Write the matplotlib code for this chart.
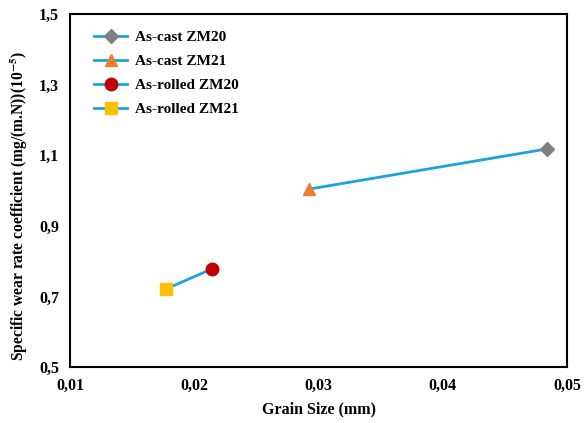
import matplotlib
matplotlib.use("Agg")
import matplotlib.pyplot as plt

plt.rcParams['font.family'] = ['Liberation Serif', 'DejaVu Serif']
plt.rcParams['mathtext.fontset'] = 'stix'

labels = ['As-cast ZM20', 'As-cast ZM21', 'As-rolled ZM20', 'As-rolled ZM21']
grain = [0.0484, 0.0292, 0.0214, 0.0177]
wear = [1.118, 1.004, 0.778, 0.721]
markers = ['D', '^', 'o', 's']
colors = ['#7f7f7f', '#ed7d31', '#c00000', '#ffc000']
sizes = [7, 9, 9, 9]
pairs = [(0, 1), (2, 3)]
line_color = '#1ca3de'

xticks = [0.01, 0.02, 0.03, 0.04, 0.05]
yticks = [0.5, 0.7, 0.9, 1.1, 1.3, 1.5]

fig = plt.figure(figsize=(5.84, 4.23), dpi=100)
ax = fig.add_axes([0.12, 0.132, 0.851, 0.835])

for a, b in pairs:
    ax.plot([grain[a], grain[b]], [wear[a], wear[b]], color=line_color, lw=2, zorder=2)

for i in range(len(labels)):
    ax.plot([grain[i]], [wear[i]], linestyle='-', color=line_color, lw=2,
            marker=markers[i], markersize=sizes[i], markerfacecolor=colors[i],
            markeredgecolor=colors[i], label=labels[i], zorder=3)

ax.set_xlim(0.01, 0.05)
ax.set_ylim(0.5, 1.5)
ax.set_xticks(xticks)
ax.set_yticks(yticks)
ax.set_xticklabels([f'{v:.2f}'.replace('.', ',') for v in xticks], fontweight='bold', fontsize=11.5)
ax.set_yticklabels([f'{v:.1f}'.replace('.', ',') for v in yticks], fontweight='bold', fontsize=11.5)
ax.tick_params(length=0, pad=8)
for s in ax.spines.values():
    s.set_linewidth(1.5)

ax.set_xlabel('Grain Size (mm)', fontweight='bold', fontsize=11.5, labelpad=5)
ax.set_ylabel('Specific wear rate coefficient (mg/(m.N))(10$^{\\mathbf{-5}}$)',
              fontweight='bold', fontsize=11.2)
ax.yaxis.set_label_coords(-0.08, 0.455)

leg = ax.legend(loc='upper left', frameon=False, prop={'weight': 'bold', 'size': 11},
                bbox_to_anchor=(0.02, 0.993), handlelength=2.2, handletextpad=0.5,
                labelspacing=0.68)

fig.savefig('out.png', dpi=100)
